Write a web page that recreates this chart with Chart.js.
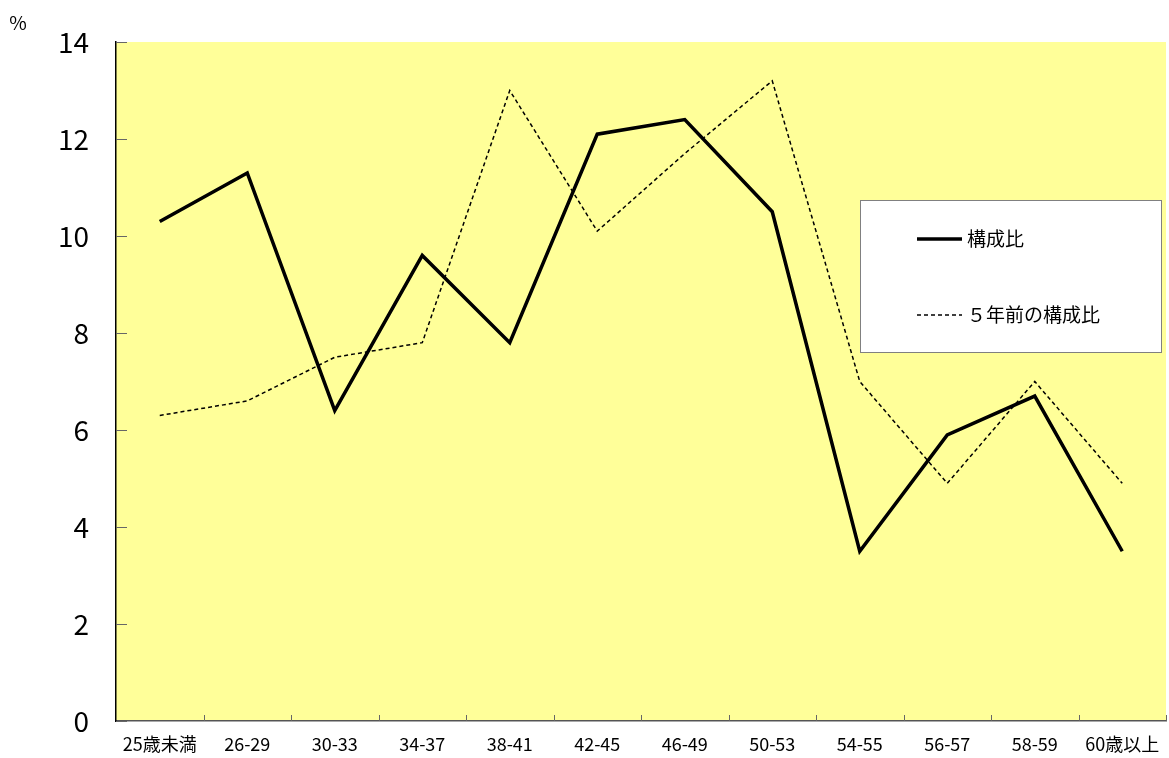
<!DOCTYPE html>
<html>
<head>
<meta charset="utf-8">
<script src="https://cdn.jsdelivr.net/npm/chart.js@4.4.1/dist/chart.umd.min.js"></script>
<style>
html,body{margin:0;padding:0;background:#fff;}
#wrap{position:relative;width:1169px;height:758px;}
</style>
</head>
<body>
<div id="wrap"><canvas id="c" width="1169" height="758"></canvas></div>
<script>
const categories = ["25歳未満","26-29","30-33","34-37","38-41","42-45","46-49","50-53","54-55","56-57","58-59","60歳以上"];
const currentShare = [10.3, 11.3, 6.4, 9.6, 7.8, 12.1, 12.4, 10.5, 3.5, 5.9, 6.7, 3.5];
const shareFiveYearsAgo = [6.3, 6.6, 7.5, 7.8, 13.0, 10.1, 11.7, 13.2, 7.0, 4.9, 7.0, 4.9];
const seriesLabels = ["構成比", "５年前の構成比"];
const yUnit = "%";
const yMin = 0, yMax = 14, yStep = 2;

const FONT = "'Noto Sans CJK JP', 'Noto Sans', sans-serif";

const decorPlugin = {
  id: 'decor',
  beforeDraw(chart) {
    const {ctx, chartArea: a} = chart;
    ctx.save();
    ctx.fillStyle = '#FFFF99';
    ctx.fillRect(a.left, a.top, a.right - a.left, a.bottom - a.top);
    ctx.restore();
  },
  afterDraw(chart) {
    const {ctx, chartArea: a, scales} = chart;
    ctx.save();
    // inward y ticks
    ctx.strokeStyle = '#666';
    ctx.lineWidth = 1;
    scales.y.ticks.forEach(t => {
      const y = Math.round(scales.y.getPixelForValue(t.value)) + 0.5;
      ctx.beginPath(); ctx.moveTo(a.left, y); ctx.lineTo(a.left + 11, y); ctx.stroke();
    });
    // inward x ticks at category boundaries
    const n = categories.length;
    const half = (scales.x.getPixelForValue(1) - scales.x.getPixelForValue(0)) / 2;
    for (let i = 0; i < n; i++) {
      const x = Math.round(scales.x.getPixelForValue(i) + half) + 0.5;
      ctx.beginPath(); ctx.moveTo(x, a.bottom); ctx.lineTo(x, a.bottom - 6); ctx.stroke();
    }
    // unit label
    ctx.fillStyle = '#000';
    ctx.font = '19px ' + FONT;
    ctx.textAlign = 'center';
    ctx.textBaseline = 'middle';
    ctx.fillText(yUnit, 18, 23);
    // legend box
    const bx = 860.5, by = 200.5, bw = 301, bh = 152;
    ctx.fillStyle = '#fff';
    ctx.fillRect(bx, by, bw, bh);
    ctx.strokeStyle = '#808080';
    ctx.lineWidth = 1;
    ctx.strokeRect(bx, by, bw, bh);
    const rows = [239, 315];
    chart.data.datasets.forEach((ds, i) => {
      const y = rows[i];
      ctx.strokeStyle = ds.borderColor;
      ctx.lineWidth = ds.borderWidth;
      ctx.setLineDash(ds.borderDash || []);
      ctx.beginPath(); ctx.moveTo(917, y); ctx.lineTo(962, y); ctx.stroke();
      ctx.setLineDash([]);
      ctx.fillStyle = '#000';
      ctx.font = '19px ' + FONT;
      ctx.textAlign = 'left';
      ctx.textBaseline = 'middle';
      ctx.fillText(ds.label, 967, y);
    });
    ctx.restore();
  }
};

new Chart(document.getElementById('c'), {
  type: 'line',
  data: {
    labels: categories,
    datasets: [
      {label: seriesLabels[0], data: currentShare, borderColor: '#000', borderWidth: 3.5, pointRadius: 0, tension: 0, borderJoinStyle: 'miter'},
      {label: seriesLabels[1], data: shareFiveYearsAgo, borderColor: '#000', borderWidth: 1.5, borderDash: [4, 3], pointRadius: 0, tension: 0}
    ]
  },
  options: {
    responsive: false,
    animation: false,
    devicePixelRatio: 1,
    layout: {padding: {top: 42, right: 3, left: 0, bottom: 0}},
    plugins: {legend: {display: false}, tooltip: {enabled: false}},
    scales: {
      x: {
        type: 'category',
        offset: true,
        grid: {display: true, drawOnChartArea: false, drawTicks: false},
        border: {display: true, color: '#555', width: 1.5},
        ticks: {color: '#000', font: {family: FONT, size: 18}, padding: 12, maxRotation: 0, autoSkip: false},
        afterFit(s) { s.height = 37; s.paddingLeft = 0; s.paddingRight = 0; }
      },
      y: {
        min: yMin, max: yMax,
        grid: {display: true, drawOnChartArea: false, drawTicks: false},
        border: {display: true, color: '#000', width: 1.5},
        ticks: {stepSize: yStep, color: '#000', font: {family: FONT, size: 28}, padding: 27},
        afterFit(s) { s.width = 116; s.paddingTop = 0; s.paddingBottom = 0; }
      }
    }
  },
  plugins: [decorPlugin]
});
</script>
</body>
</html>
